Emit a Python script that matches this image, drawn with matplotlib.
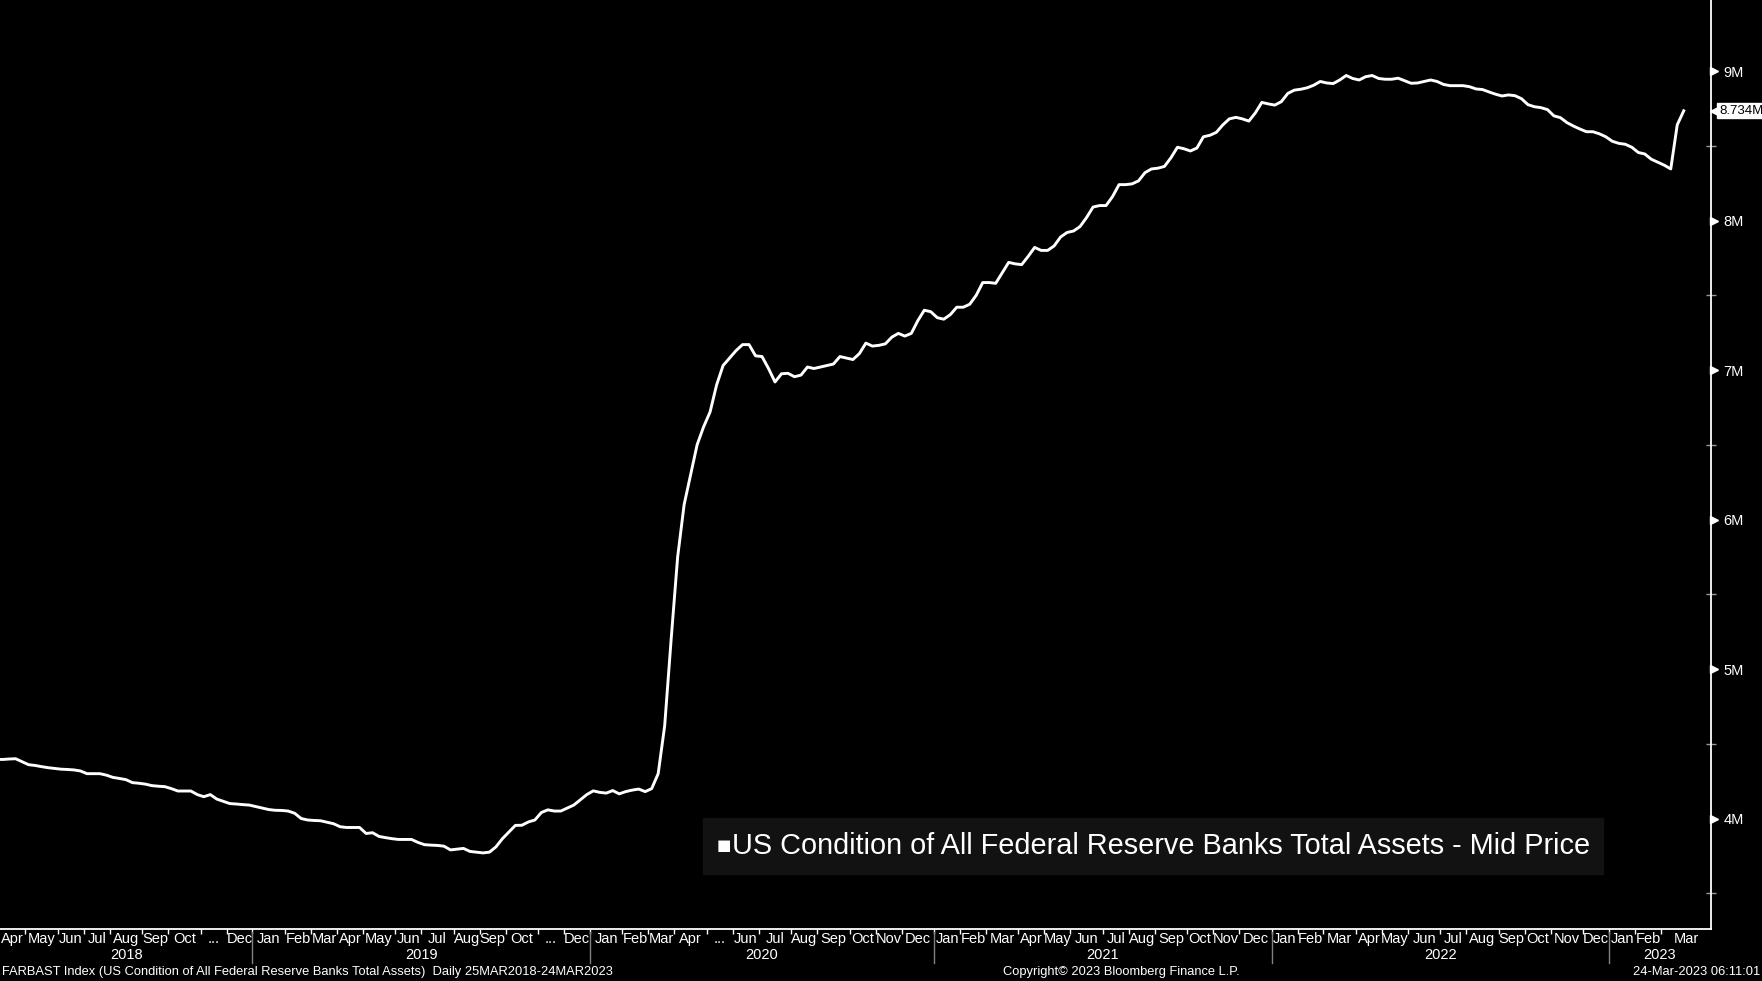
import numpy as np
import pandas as pd
import matplotlib
matplotlib.use('Agg')
import matplotlib.pyplot as plt
import matplotlib.transforms as mtransforms
from matplotlib.patches import Rectangle

W, H = 1762, 981

# weekly readings (Wednesdays), total assets in millions of USD millions (M)
start_date = '2018-03-28'
values = [
    4.396, 4.395, 4.398, 4.400, 4.380, 4.360, 4.355, 4.347, 4.340, 4.335,
    4.330, 4.328, 4.325, 4.318, 4.300, 4.300, 4.300, 4.290, 4.275, 4.268,
    4.260, 4.240, 4.236, 4.230, 4.220, 4.216, 4.213, 4.200, 4.184, 4.184,
    4.184, 4.160, 4.146, 4.160, 4.130, 4.115, 4.100, 4.097, 4.093, 4.090,
    4.080, 4.070, 4.060, 4.055, 4.054, 4.050, 4.035, 4.000, 3.990, 3.987,
    3.985, 3.975, 3.965, 3.945, 3.940, 3.940, 3.940, 3.900, 3.905, 3.880,
    3.872, 3.865, 3.860, 3.860, 3.860, 3.840, 3.825, 3.822, 3.820, 3.815,
    3.790, 3.795, 3.800, 3.780, 3.775, 3.770, 3.775, 3.810, 3.865, 3.910,
    3.954, 3.955, 3.977, 3.990, 4.040, 4.058, 4.050, 4.050, 4.070, 4.090,
    4.125, 4.160, 4.185, 4.175, 4.170, 4.187, 4.165, 4.180, 4.190, 4.197,
    4.180, 4.200, 4.300, 4.620, 5.200, 5.750, 6.100, 6.300, 6.500, 6.620,
    6.720, 6.900, 7.030, 7.080, 7.130, 7.170, 7.170, 7.095, 7.090, 7.010,
    6.920, 6.975, 6.978, 6.955, 6.966, 7.020, 7.010, 7.020, 7.030, 7.040,
    7.090, 7.080, 7.070, 7.110, 7.180, 7.160, 7.165, 7.175, 7.220, 7.245,
    7.227, 7.245, 7.330, 7.400, 7.390, 7.350, 7.340, 7.370, 7.420, 7.420,
    7.440, 7.500, 7.585, 7.585, 7.580, 7.650, 7.720, 7.710, 7.705, 7.760,
    7.820, 7.800, 7.800, 7.830, 7.890, 7.920, 7.930, 7.960, 8.020, 8.090,
    8.100, 8.100, 8.160, 8.240, 8.240, 8.245, 8.265, 8.320, 8.345, 8.350,
    8.362, 8.420, 8.490, 8.480, 8.465, 8.485, 8.560, 8.570, 8.590, 8.640,
    8.680, 8.690, 8.680, 8.665, 8.720, 8.790, 8.780, 8.772, 8.795, 8.850,
    8.872, 8.878, 8.888, 8.905, 8.930, 8.920, 8.916, 8.940, 8.970, 8.950,
    8.940, 8.962, 8.970, 8.950, 8.945, 8.945, 8.952, 8.935, 8.918, 8.920,
    8.930, 8.940, 8.930, 8.910, 8.902, 8.902, 8.902, 8.895, 8.880, 8.876,
    8.860, 8.845, 8.833, 8.840, 8.835, 8.815, 8.775, 8.761, 8.755, 8.742,
    8.700, 8.688, 8.655, 8.632, 8.612, 8.594, 8.594, 8.580, 8.560, 8.530,
    8.516, 8.510, 8.490, 8.455, 8.445, 8.410, 8.390, 8.370, 8.345, 8.640,
    8.734,
]

month_labels = [
    'Apr', 'May', 'Jun', 'Jul', 'Aug', 'Sep', 'Oct', '...', 'Dec',
    'Jan', 'Feb', 'Mar', 'Apr', 'May', 'Jun', 'Jul', 'Aug', 'Sep', 'Oct', '...', 'Dec',
    'Jan', 'Feb', 'Mar', 'Apr', '...', 'Jun', 'Jul', 'Aug', 'Sep', 'Oct', 'Nov', 'Dec',
    'Jan', 'Feb', 'Mar', 'Apr', 'May', 'Jun', 'Jul', 'Aug', 'Sep', 'Oct', 'Nov', 'Dec',
    'Jan', 'Feb', 'Mar', 'Apr', 'May', 'Jun', 'Jul', 'Aug', 'Sep', 'Oct', 'Nov', 'Dec',
    'Jan', 'Feb', 'Mar',
]
y_ticks = [4, 5, 6, 7, 8, 9]
y_minor = [3.5, 4.5, 5.5, 6.5, 7.5, 8.5]

legend_text = 'US Condition of All Federal Reserve Banks Total Assets - Mid Price'
footer_left = 'FARBAST Index (US Condition of All Federal Reserve Banks Total Assets)  Daily 25MAR2018-24MAR2023'
footer_mid = 'Copyright\u00a9 2023 Bloomberg Finance L.P.'
footer_right = '24-Mar-2023 06:11:01'

dates = pd.date_range(start_date, periods=len(values), freq='7D')
idx = np.arange(len(values))

FONT = ['Liberation Sans', 'DejaVu Sans']
plt.rcParams['font.family'] = FONT


def fx(px):
    return px / W


def fy(py):
    return 1 - py / H


fig = plt.figure(figsize=(W / 100, H / 100), dpi=100, facecolor='black')
ax = fig.add_axes([0, fy(929), fx(1711), 929 / H])
ax.set_facecolor('black')

ax.plot(idx, values, color='white', lw=2.1, solid_joinstyle='round')
x_left, x_right = 0.6, 264.2
ax.set_xlim(x_left, x_right)
ax.set_ylim(3.261, 9.475)

for s in ['left', 'top']:
    ax.spines[s].set_visible(False)
for s in ['right', 'bottom']:
    ax.spines[s].set_color('white')
    ax.spines[s].set_linewidth(1.3)

# y axis on the right
ax.yaxis.tick_right()
ax.set_yticks(y_ticks, labels=[f'{t}M' for t in y_ticks])
ax.set_yticks(y_minor, minor=True)
ax.tick_params(axis='y', which='major', length=0, pad=9, labelcolor='white', labelsize=10.5)
ax.tick_params(axis='y', which='minor', direction='inout', length=7, width=1, color='#9a9a9a')
tri = mtransforms.offset_copy(ax.get_yaxis_transform(), fig, x=3, units='dots')
ax.plot([1] * len(y_ticks), y_ticks, ls='none', marker='>', ms=6, color='white',
        transform=tri, clip_on=False)

# last value tag
last = values[-1]
tag = mtransforms.offset_copy(ax.get_yaxis_transform(), fig, x=4, units='dots')
ax.plot([1], [last], ls='none', marker='<', ms=7, color='white', transform=tag, clip_on=False)
tag_txt = mtransforms.offset_copy(ax.get_yaxis_transform(), fig, x=8, units='dots')
ax.text(1, last, f'{last:.3f}M', transform=tag_txt, ha='left', va='center', fontsize=9.5,
        color='black', bbox=dict(boxstyle='square,pad=0.12', fc='white', ec='white'))

# x axis: month boundaries on the weekly index
per = dates.to_period('M')
months = pd.period_range('2018-04', '2023-03', freq='M')
bounds = [x_left]
for m in months[1:]:
    bounds.append(np.flatnonzero(per == m)[0] - 0.5)
bounds.append(x_right)

ax.set_xticks(bounds[1:-1])
ax.set_xticklabels([])
ax.tick_params(axis='x', which='major', direction='out', length=3.5, width=1, color='white')

xt = ax.get_xaxis_transform()
for k, lab in enumerate(month_labels):
    ax.text((bounds[k] + bounds[k + 1]) / 2, 1 - 939 / 929, lab, transform=xt,
            ha='center', va='center', fontsize=10.5, color='white')

years = sorted(set(m.year for m in months))
for yr in years:
    ks = [k for k, m in enumerate(months) if m.year == yr]
    a, b = bounds[ks[0]], bounds[ks[-1] + 1]
    ax.text((a + b) / 2, 1 - 955 / 929, str(yr), transform=xt,
            ha='center', va='center', fontsize=10.5, color='white')
    if months[ks[0]].month == 1:
        ax.plot([a, a], [1 - 932 / 929, 1 - 963 / 929], transform=xt, color='#808080',
                lw=1, clip_on=False)

# legend box
fig.patches.append(Rectangle((fx(703), fy(874)), fx(900), 56 / H, transform=fig.transFigure,
                             color='#121212', zorder=5))
fig.text(fx(717), fy(846), '\u25a0', fontsize=11, color='white', va='center', ha='left',
         zorder=6, family=['DejaVu Sans'])
fig.text(fx(732), fy(846), legend_text, fontsize=20.8, color='white', va='center', ha='left', zorder=6)

# footer
fig.text(fx(2), fy(972), footer_left, fontsize=9.3, color='white', va='center', ha='left')
fig.text(fx(1121), fy(972), footer_mid, fontsize=9.3, color='white', va='center', ha='center')
fig.text(fx(1760), fy(972), footer_right, fontsize=9.3, color='white', va='center', ha='right')

fig.savefig('out.png', dpi=100, facecolor='black')
